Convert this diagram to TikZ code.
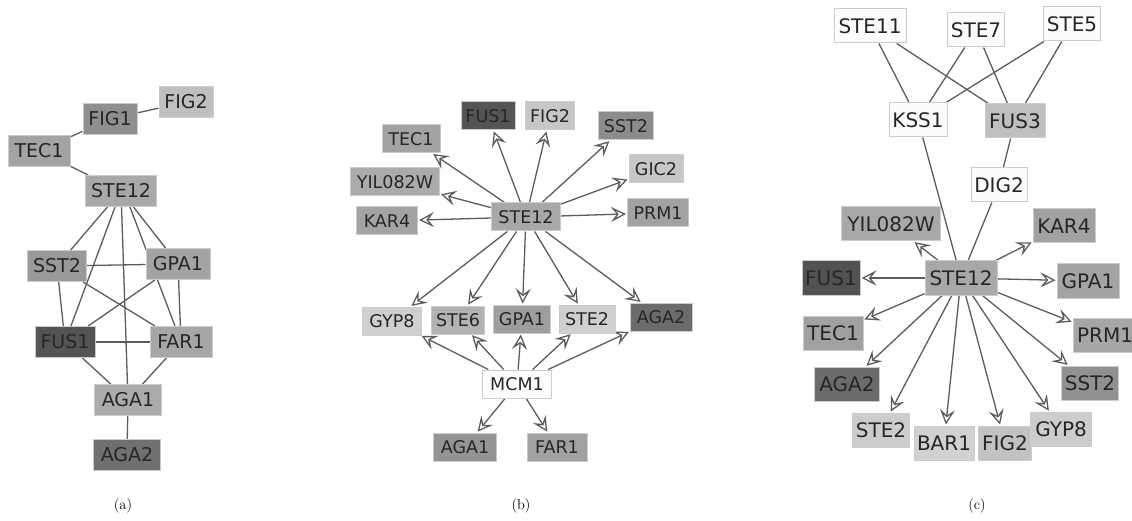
\documentclass[tikz,border=0pt]{standalone}
\usepackage{fontspec}
\newfontfamily\nodefont{DejaVu Sans}
\usetikzlibrary{arrows.meta}
\pgfdeclarelayer{edges}
\pgfsetlayers{edges,main}

\begin{document}
\begin{tikzpicture}[x=1pt,y=-1pt,
  gene/.style 2 args={draw=black!20, line width=1pt, fill=black!#1,
    minimum width=#2, inner xsep=1pt, inner ysep=0pt, text=black!85},
  panela/.style={font=\nodefont\fontsize{19}{20}\selectfont, minimum height=31pt},
  panelb/.style={font=\nodefont\fontsize{17.5}{18}\selectfont, minimum height=28pt},
  panelc/.style={font=\nodefont\fontsize{20}{21}\selectfont, minimum height=34pt},
  link/.style={draw=black!64, line width=1.3pt},
  arr/.style={link, shorten >=1pt,
    -{Stealth[open, length=15pt, width=15pt, inset=6pt, line width=1.3pt]}},
  caption/.style={font=\fontsize{14.5}{16}\selectfont}
]
\useasboundingbox (0,0) rectangle (1132,521);

% ---------- (a) undirected interaction network ----------
\begin{scope}[every node/.append style={panela}]
\node[gene={25}{54}] (aFIG2)  at (186,102) {FIG2};
\node[gene={44}{54}] (aFIG1)  at (110,119) {FIG1};
\node[gene={36}{62}] (aTEC1)  at (39,151)  {TEC1};
\node[gene={34}{71}] (aSTE12) at (121,191) {STE12};
\node[gene={40}{59}] (aSST2)  at (57,266)  {SST2};
\node[gene={36}{64}] (aGPA1)  at (178,264) {GPA1};
\node[gene={67}{60}] (aFUS1)  at (65,342)  {FUS1};
\node[gene={35}{62}] (aFAR1)  at (181,342) {FAR1};
\node[gene={33}{67}] (aAGA1)  at (128,400) {AGA1};
\node[gene={56}{67}] (aAGA2)  at (127,455) {AGA2};
\end{scope}
\begin{pgfonlayer}{edges}
\draw[link] (aFIG2) -- (aFIG1);
\draw[link] (aFIG1) -- (aTEC1);
\draw[link] (aTEC1) -- (aSTE12);
\draw[link] (aSTE12) -- (aSST2);
\draw[link] (aSTE12) -- (aFUS1);
\draw[link] (aSTE12) -- (aAGA1);
\draw[link] (aSTE12.south) ++(9,0) coordinate (aS12r) -- (aFAR1);
\draw[link] (aSTE12) -- (aGPA1);
\draw[link] (aSST2) -- (aGPA1);
\draw[link] (aSST2) -- (aFUS1);
\draw[link] (aSST2) -- (aFAR1);
\draw[link] (aGPA1) -- (aFUS1);
\draw[link] (aGPA1) -- (aFAR1);
\draw[link] (aFUS1) -- (aFAR1);
\draw[link] (aFUS1) -- (aAGA1);
\draw[link] (aFAR1) -- (aAGA1);
\draw[link] (aAGA1) -- (aAGA2);
\end{pgfonlayer}

% ---------- (b) STE12 and MCM1 targets ----------
\begin{scope}[every node/.append style={panelb}]
\node[gene={67}{54}] (bFUS1)  at (488,116) {FUS1};
\node[gene={22}{49}] (bFIG2)  at (550,116) {FIG2};
\node[gene={45}{55}] (bSST2)  at (626,126) {SST2};
\node[gene={36}{58}] (bTEC1)  at (411,139) {TEC1};
\node[gene={22}{54}] (bGIC2)  at (656,169) {GIC2};
\node[gene={33}{89}] (bYIL)   at (395,182) {YIL082W};
\node[gene={34}{69}] (bSTE12) at (526,217) {STE12};
\node[gene={37}{61}] (bPRM1)  at (658,213) {PRM1};
\node[gene={36}{61}] (bKAR4)  at (387,221) {KAR4};
\node[gene={19}{59}] (bGYP8)  at (392,321) {GYP8};
\node[gene={30}{53}] (bSTE6)  at (458,320) {STE6};
\node[gene={38}{57}] (bGPA1)  at (522,319) {GPA1};
\node[gene={19}{56}] (bSTE2)  at (587,319) {STE2};
\node[gene={58}{62}] (bAGA2)  at (661,317) {AGA2};
\node[gene={1}{69}]  (bMCM1)  at (517,384) {MCM1};
\node[gene={42}{63}] (bAGA1)  at (465,447) {AGA1};
\node[gene={37}{60}] (bFAR1)  at (557,447) {FAR1};
\end{scope}
\begin{pgfonlayer}{edges}
\foreach \t in {bFUS1,bFIG2,bSST2,bTEC1,bGIC2,bYIL,bPRM1,bKAR4,
                bGYP8,bSTE6,bGPA1,bSTE2,bAGA2}
  \draw[arr] (bSTE12) -- (\t);
\foreach \t in {bGYP8,bSTE6,bGPA1,bSTE2,bAGA2,bAGA1,bFAR1}
  \draw[arr] (bMCM1) -- (\t);
\end{pgfonlayer}

% ---------- (c) MAPK cascade feeding STE12 ----------
\begin{scope}[every node/.append style={panelc}]
\node[gene={1}{72}]  (cSTE11) at (870,26)   {STE11};
\node[gene={1}{57}]  (cSTE7)  at (976,30)   {STE7};
\node[gene={1}{57}]  (cSTE5)  at (1072,24)  {STE5};
\node[gene={1}{58}]  (cKSS1)  at (918,120)  {KSS1};
\node[gene={25}{60}] (cFUS3)  at (1015,121) {FUS3};
\node[gene={1}{56}]  (cDIG2)  at (999,185)  {DIG2};
\node[gene={34}{99}] (cYIL)   at (891,224)  {YIL082W};
\node[gene={37}{62}] (cKAR4)  at (1064,226) {KAR4};
\node[gene={68}{58}] (cFUS1)  at (831,278)  {FUS1};
\node[gene={34}{72}] (cSTE12) at (961,278)  {STE12};
\node[gene={36}{62}] (cGPA1)  at (1088,281) {GPA1};
\node[gene={37}{60}] (cTEC1)  at (833,333)  {TEC1};
\node[gene={35}{64}] (cPRM1)  at (1105,335) {PRM1};
\node[gene={58}{65}] (cAGA2)  at (847,384)  {AGA2};
\node[gene={43}{57}] (cSST2)  at (1090,383) {SST2};
\node[gene={20}{57}] (cSTE2)  at (881,430)  {STE2};
\node[gene={18}{60}] (cBAR1)  at (944,443)  {BAR1};
\node[gene={24}{53}] (cFIG2)  at (1005,443) {FIG2};
\node[gene={20}{61}] (cGYP8)  at (1061,429) {GYP8};
\end{scope}
\begin{pgfonlayer}{edges}
\foreach \s in {cSTE11,cSTE7,cSTE5}{
  \draw[link] (\s) -- (cKSS1);
  \draw[link] (\s) -- (cFUS3);
}
\draw[link] (cKSS1) -- (cSTE12);
\draw[link] (cFUS3) -- (cDIG2);
\draw[link] (cDIG2) -- (cSTE12);
\foreach \t in {cYIL,cKAR4,cFUS1,cGPA1,cTEC1,cPRM1,cAGA2,cSST2,
                cSTE2,cBAR1,cFIG2,cGYP8}
  \draw[arr] (cSTE12) -- (\t);
\end{pgfonlayer}

% ---------- sub-figure labels ----------
\node[caption] (capa) at (123,506) {(a)};
\node[caption] (capb) at (521,506) {(b)};
\node[caption] (capc) at (977,506) {(c)};
\end{tikzpicture}
\end{document}
